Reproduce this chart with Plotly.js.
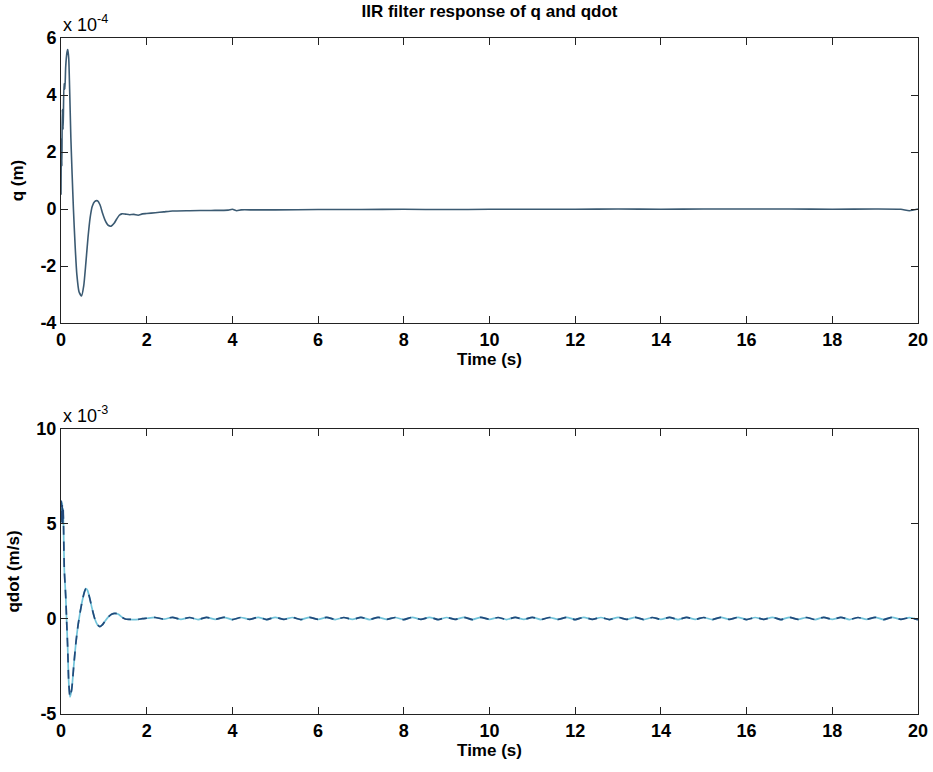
<!DOCTYPE html>
<html>
<head>
<meta charset="utf-8">
<script src="https://cdn.plot.ly/plotly-3.0.1.min.js"></script>
<style>html,body{margin:0;padding:0;background:#fff;}#chart{width:933px;height:772px;}</style>
</head>
<body>
<div id="chart"></div>
<script>
// ---- data (q in units of 1e-4 m, qdot in units of 1e-3 m/s) ----
var qTime = [0, 0.01, 0.02, 0.03, 0.05, 0.07, 0.09, 0.11, 0.14, 0.156, 0.18, 0.2, 0.23, 0.26, 0.29, 0.33, 0.37, 0.42, 0.48, 0.53, 0.58, 0.63, 0.68, 0.73, 0.79, 0.85, 0.91, 0.97, 1.03, 1.1, 1.17, 1.24, 1.3, 1.36, 1.42, 1.5, 1.6, 1.7, 1.8, 1.9, 2.0, 2.2, 2.4, 2.6, 3.0, 3.5, 3.9, 4.0, 4.1, 4.2, 4.5, 5, 6, 7, 8, 9, 10, 11, 12, 13, 14, 15, 16, 17, 18, 19, 19.6, 19.8, 20];
var qValue = [0.5, 2.5, 1.5, 3.5, 2.8, 4.4, 4.2, 5.0, 5.5, 5.6, 5.3, 4.3, 2.5, 1.2, 0.0, -1.3, -2.3, -2.9, -3.05, -2.7, -1.9, -1.0, -0.3, 0.1, 0.27, 0.29, 0.15, -0.15, -0.4, -0.57, -0.6, -0.5, -0.35, -0.22, -0.17, -0.18, -0.2, -0.19, -0.22, -0.17, -0.16, -0.13, -0.1, -0.07, -0.06, -0.05, -0.04, -0.01, -0.06, -0.03, -0.03, -0.03, -0.02, -0.02, -0.01, -0.02, -0.01, -0.01, -0.01, 0.0, -0.01, 0.0, 0.0, 0.0, -0.01, 0.0, -0.01, -0.06, 0.0];

var qdotTime = [0, 0.01, 0.02, 0.03, 0.04, 0.05, 0.06, 0.077, 0.11, 0.13, 0.156, 0.18, 0.21, 0.25, 0.3, 0.35, 0.4, 0.45, 0.5, 0.55, 0.58, 0.62, 0.67, 0.72, 0.79, 0.85, 0.91, 0.97, 1.03, 1.1, 1.18, 1.26, 1.34, 1.42, 1.5, 1.6, 1.7, 1.8, 1.9,
  2.0, 2.2, 2.4, 2.6, 2.8, 3.0, 3.2, 3.4, 3.6, 3.8, 4.0, 4.2, 4.4, 4.6, 4.8, 5.0, 5.2, 5.4, 5.6, 5.8, 6.0, 6.2, 6.4, 6.6, 6.8, 7.0, 7.2, 7.4, 7.6, 7.8, 8.0, 8.2, 8.4, 8.6, 8.8, 9.0, 9.2, 9.4, 9.6, 9.8, 10.0, 10.2, 10.4, 10.6, 10.8, 11.0, 11.2, 11.4, 11.6, 11.8, 12.0, 12.2, 12.4, 12.6, 12.8, 13.0, 13.2, 13.4, 13.6, 13.8, 14.0, 14.2, 14.4, 14.6, 14.8, 15.0, 15.2, 15.4, 15.6, 15.8, 16.0, 16.2, 16.4, 16.6, 16.8, 17.0, 17.2, 17.4, 17.6, 17.8, 18.0, 18.2, 18.4, 18.6, 18.8, 19.0, 19.2, 19.4, 19.6, 19.8, 20.0];
var qdotValue = [5.2, 6.2, 5.1, 6.1, 5.0, 5.8, 4.8, 2.6, 1.2, 0.0, -1.5, -3.3, -4.1, -3.7, -2.4, -1.2, -0.3, 0.4, 1.0, 1.45, 1.6, 1.5, 1.1, 0.6, 0.0, -0.3, -0.4, -0.3, -0.1, 0.1, 0.25, 0.3, 0.25, 0.1, 0.0, -0.02, -0.03, -0.02, 0.02,
  0.04, 0.08, -0.01, 0.09, -0.02, 0.08, -0.03, 0.09, -0.02, 0.09, -0.03, 0.08, -0.02, 0.09, -0.03, 0.09, -0.02, 0.08, -0.03, 0.09, -0.02, 0.09, -0.03, 0.08, -0.02, 0.09, -0.03, 0.09, -0.02, 0.08, -0.03, 0.09, -0.02, 0.09, -0.03, 0.08, -0.02, 0.09, -0.03, 0.09, -0.02, 0.08, -0.03, 0.09, -0.02, 0.09, -0.03, 0.08, -0.02, 0.09, -0.03, 0.09, -0.02, 0.08, -0.03, 0.09, -0.02, 0.09, -0.03, 0.08, -0.02, 0.09, -0.03, 0.09, -0.02, 0.08, -0.03, 0.09, -0.02, 0.09, -0.03, 0.08, -0.02, 0.09, -0.03, 0.09, -0.02, 0.08, -0.03, 0.09, -0.02, 0.09, -0.03, 0.08, -0.02, 0.09, -0.03, 0.09, -0.02, 0.07, -0.04];

var xTickVals = [0, 2, 4, 6, 8, 10, 12, 14, 16, 18, 20];
var xTickText = ['0', '2', '4', '6', '8', '10', '12', '14', '16', '18', '20'];
var qTickVals = [-4, -2, 0, 2, 4, 6];
var qTickText = ['-4', '-2', '0', '2', '4', '6'];
var qdotTickVals = [-5, 0, 5, 10];
var qdotTickText = ['-5', '0', '5', '10'];

var titleText = 'IIR filter response of q and qdot';
var xTitle = 'Time (s)';
var qTitle = 'q (m)';
var qdotTitle = 'qdot (m/s)';
var qScale = 'x 10<sup>-4</sup>';
var qdotScale = 'x 10<sup>-3</sup>';

// ---- drawing ----
var FONT = 'Liberation Sans, Arial, sans-serif';
var tickFont = {family: FONT, size: 18, color: '#000', weight: 'bold'};
var titleFont = {family: FONT, size: 17, color: '#000', weight: 'bold'};

function xAxis(anchor) {
  return {
    anchor: anchor, range: [0, 20], tickvals: xTickVals, ticktext: xTickText,
    ticks: 'inside', ticklen: 7, tickcolor: '#222', showline: true, linecolor: '#222', linewidth: 1,
    mirror: 'ticks', showgrid: false, zeroline: false, tickfont: tickFont,
    title: {text: xTitle, font: titleFont, standoff: 4}
  };
}
function yAxis(anchor, domain, range, vals, text, title) {
  return {
    anchor: anchor, domain: domain, range: range, tickvals: vals, ticktext: text,
    ticks: 'inside', ticklen: 7, tickcolor: '#222', showline: true, linecolor: '#222', linewidth: 1,
    mirror: 'ticks', showgrid: false, zeroline: false, tickfont: tickFont,
    title: {text: title, font: titleFont, standoff: 12}
  };
}

var traces = [
  {x: qTime, y: qValue, xaxis: 'x', yaxis: 'y', type: 'scatter', mode: 'lines',
   line: {color: '#3b5a72', width: 1.6, shape: 'spline', smoothing: 0.6}, hoverinfo: 'skip'},
  {x: qdotTime, y: qdotValue, xaxis: 'x2', yaxis: 'y2', type: 'scatter', mode: 'lines',
   line: {color: '#72c4da', width: 1.7, shape: 'spline', smoothing: 0.6}, hoverinfo: 'skip'},
  {x: qdotTime, y: qdotValue, xaxis: 'x2', yaxis: 'y2', type: 'scatter', mode: 'lines',
   line: {color: '#22497a', width: 1.7, shape: 'spline', smoothing: 0.6, dash: '9px,7px'}, hoverinfo: 'skip'}
];

var layout = {
  width: 933, height: 772,
  margin: {l: 61, r: 15, t: 38, b: 58},
  paper_bgcolor: '#fff', plot_bgcolor: '#fff',
  showlegend: false,
  title: {text: titleText, font: titleFont, x: 0.5, xref: 'paper', y: 0.986, yref: 'container', yanchor: 'middle'},
  xaxis: xAxis('y'),
  yaxis: yAxis('x', [0.5784, 1], [-4, 6], qTickVals, qTickText, qTitle),
  xaxis2: xAxis('y2'),
  yaxis2: yAxis('x2', [0, 0.4216], [-5, 10], qdotTickVals, qdotTickText, qdotTitle),
  annotations: [
    {text: qScale, xref: 'paper', yref: 'paper', x: 0, y: 1, xanchor: 'left', yanchor: 'bottom', yshift: 1, showarrow: false,
     font: {family: FONT, size: 18, color: '#000'}},
    {text: qdotScale, xref: 'paper', yref: 'paper', x: 0, y: 0.4216, xanchor: 'left', yanchor: 'bottom', yshift: 1, showarrow: false,
     font: {family: FONT, size: 18, color: '#000'}}
  ]
};

Plotly.newPlot('chart', traces, layout, {staticPlot: true, displayModeBar: false});
</script>
</body>
</html>
